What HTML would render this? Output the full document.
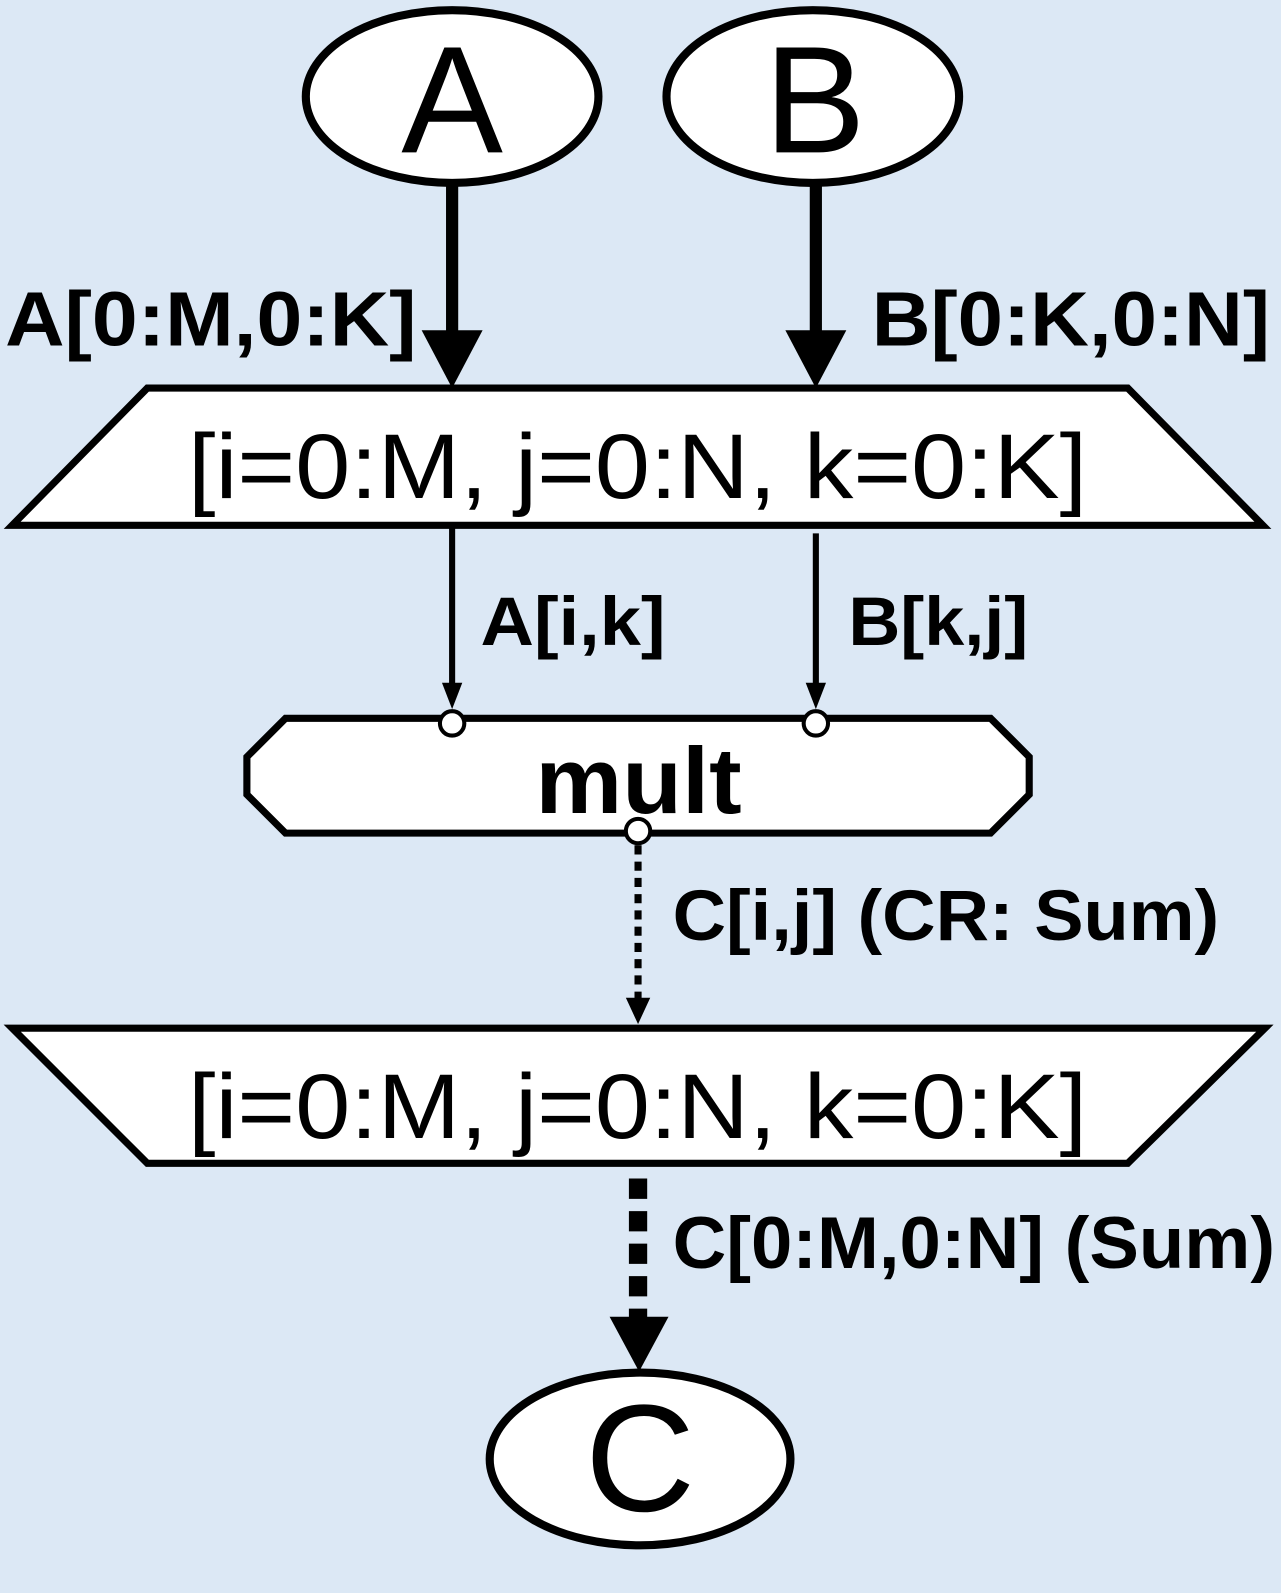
<!DOCTYPE html>
<html><head><meta charset="utf-8"><style>
html,body{margin:0;padding:0;background:#dce8f5;}
svg{display:block;}
text{font-family:"Liberation Sans",Arial,sans-serif;fill:#000;}
</style></head><body>
<svg width="1281" height="1593" viewBox="0 0 1281 1593" xmlns="http://www.w3.org/2000/svg">
<rect width="1281" height="1593" fill="#dce8f5"/>
<g transform="scale(1.016)">
<ellipse cx="445" cy="95" rx="144" ry="85" fill="#fff" stroke="#000" stroke-width="8"/>
<text x="445" y="150" font-size="150" text-anchor="middle">A</text>
<ellipse cx="800" cy="95" rx="144" ry="85" fill="#fff" stroke="#000" stroke-width="8"/>
<text x="802" y="150" font-size="150" text-anchor="middle">B</text>
<line x1="445" y1="180" x2="445" y2="330" stroke="#000" stroke-width="12"/>
<polygon points="415,325 475,325 445,382" fill="#000"/>
<line x1="803" y1="180" x2="803" y2="330" stroke="#000" stroke-width="12"/>
<polygon points="773,325 833,325 803,382" fill="#000"/>
<text x="5" y="340" font-size="76" font-weight="bold" textLength="405" lengthAdjust="spacingAndGlyphs">A[0:M,0:K]</text>
<text x="858" y="340" font-size="76" font-weight="bold" textLength="392" lengthAdjust="spacingAndGlyphs">B[0:K,0:N]</text>
<polygon points="145,382 1110,382 1243,517 12,517" fill="#fff" stroke="#000" stroke-width="7"/>
<text x="185" y="490" font-size="90" textLength="885" lengthAdjust="spacingAndGlyphs">[i=0:M, j=0:N, k=0:K]</text>
<line x1="445" y1="520" x2="445" y2="680" stroke="#000" stroke-width="6"/>
<polygon points="435,672 455,672 445,698" fill="#000"/>
<line x1="803" y1="525" x2="803" y2="680" stroke="#000" stroke-width="6"/>
<polygon points="793,672 813,672 803,698" fill="#000"/>
<text x="473" y="635" font-size="68" font-weight="bold" textLength="182" lengthAdjust="spacingAndGlyphs">A[i,k]</text>
<text x="835" y="635" font-size="68" font-weight="bold" textLength="177" lengthAdjust="spacingAndGlyphs">B[k,j]</text>
<polygon points="281,707 975,707 1013,745 1013,782 975,820 281,820 243,782 243,745" fill="#fff" stroke="#000" stroke-width="7"/>
<text x="527" y="800" font-size="92" font-weight="bold" textLength="203" lengthAdjust="spacingAndGlyphs">mult</text>
<circle cx="445" cy="712" r="12" fill="#fff" stroke="#000" stroke-width="4"/>
<circle cx="803" cy="712" r="12" fill="#fff" stroke="#000" stroke-width="4"/>
<line x1="628" y1="832" x2="628" y2="985" stroke="#000" stroke-width="7" stroke-dasharray="9,7"/>
<polygon points="616,982 640,982 628,1008" fill="#000"/>
<circle cx="628" cy="818" r="12" fill="#fff" stroke="#000" stroke-width="4"/>
<text x="662" y="925" font-size="70" font-weight="bold" textLength="538" lengthAdjust="spacingAndGlyphs">C[i,j] (CR: Sum)</text>
<polygon points="12,1012 1245,1012 1110,1145 145,1145" fill="#fff" stroke="#000" stroke-width="7"/>
<text x="185" y="1120" font-size="90" textLength="885" lengthAdjust="spacingAndGlyphs">[i=0:M, j=0:N, k=0:K]</text>
<line x1="628" y1="1160" x2="628" y2="1298" stroke="#000" stroke-width="18" stroke-dasharray="20,12"/>
<polygon points="600,1296 658,1296 629,1350" fill="#000"/>
<text x="662" y="1248" font-size="72" font-weight="bold" textLength="593" lengthAdjust="spacingAndGlyphs">C[0:M,0:N] (Sum)</text>
<ellipse cx="630" cy="1436" rx="148" ry="85" fill="#fff" stroke="#000" stroke-width="8"/>
<text x="630" y="1487" font-size="150" text-anchor="middle">C</text>
</g>
</svg>
</body></html>
